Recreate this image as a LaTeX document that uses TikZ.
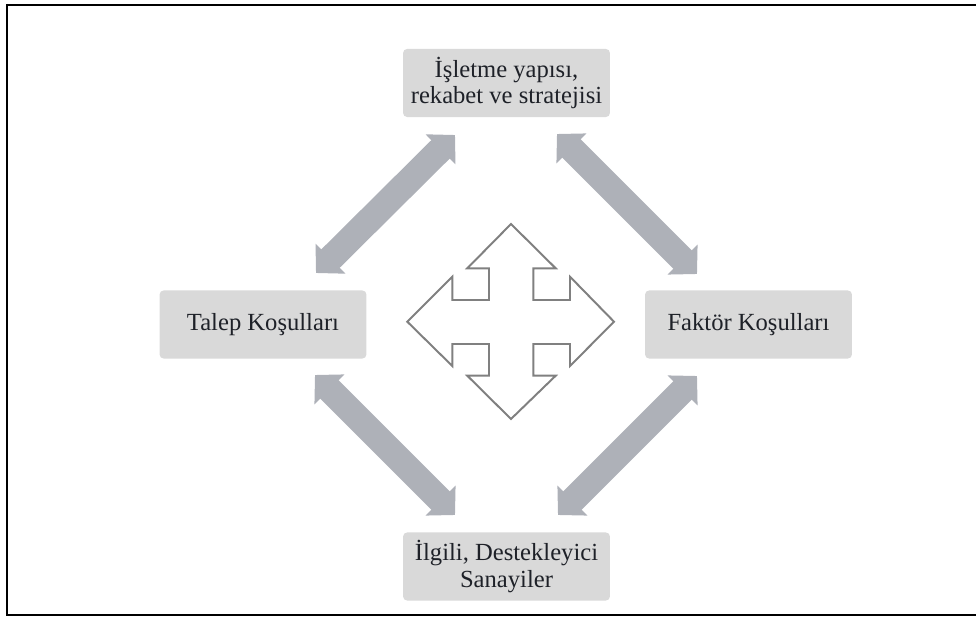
\documentclass[tikz,border=0pt]{standalone}
\usepackage{fontspec}
\setmainfont{Liberation Serif}
\newfontfamily\timesfont{Liberation Serif}
\usetikzlibrary{arrows.meta}
\definecolor{boxgray}{RGB}{217,217,217}
\definecolor{arrowgray}{RGB}{174,177,184}
\definecolor{crossgray}{RGB}{128,128,128}
\definecolor{textdark}{RGB}{30,33,40}

\begin{document}
\begin{tikzpicture}[x=0.025cm, y=-0.025cm,
    box/.style = {fill = boxgray, rounded corners = 0.1cm, minimum width = 5.17cm,
      minimum height = 1.7cm, align = center, inner sep = 0pt,
      font = \timesfont\fontsize{17.5}{18.5}\selectfont, text = textdark},
    twoway/.style = {arrowgray, line width = 0.65cm,
      {Triangle[width = 1.03cm, length = 0.51cm]}-{Triangle[width = 1.03cm, length = 0.51cm]}}]
        \useasboundingbox (0, 0) rectangle (976, 617);
        % frame
        \draw[line width = 1.4pt] (6, 5) -- (976, 5);
        \draw[line width = 1.4pt] (7, 4) -- (7, 615);
        \draw[line width = 1.4pt] (6, 615) -- (976, 615);
        % boxes
        \node[box] (isletme) at (506.5, 83) {İşletme yapısı,\\rekabet ve stratejisi};
        \node[box] (talep) at (263, 324.5) {Talep Koşulları};
        \node[box] (faktor) at (748.5, 324.5) {Faktör Koşulları};
        \node[box] (ilgili) at (506.5, 566.5) {İlgili, Destekleyici\\Sanayiler};
        % arrow ends
        \coordinate (tl1) at (316, 273);
        \coordinate (tl2) at (455, 135);
        \coordinate (tr1) at (557, 134);
        \coordinate (tr2) at (697, 274);
        \coordinate (bl1) at (315, 375);
        \coordinate (bl2) at (455, 515);
        \coordinate (br1) at (697, 376);
        \coordinate (br2) at (558, 515);
        \draw[twoway] (tl1) -- (tl2);
        \draw[twoway] (tr1) -- (tr2);
        \draw[twoway] (bl1) -- (bl2);
        \draw[twoway] (br1) -- (br2);
        % four way arrow in the middle
        \draw[crossgray, line width = 1.4pt, line join = miter]
          (511, 224) -- (555.7, 268.3) -- (533.3, 268.3) -- (533.3, 300)
          -- (570, 300) -- (570, 276.7) -- (614, 321.7) -- (570, 366)
          -- (570, 344) -- (533.3, 344) -- (533.3, 375.7) -- (555.7, 375.7)
          -- (511, 419) -- (467.3, 375.7) -- (489, 375.7) -- (489, 344)
          -- (452.3, 344) -- (452.3, 366) -- (407.3, 321.7) -- (452.3, 276.7)
          -- (452.3, 300) -- (489, 300) -- (489, 268.3) -- (467.3, 268.3) -- cycle;
      \end{tikzpicture}
\end{document}
